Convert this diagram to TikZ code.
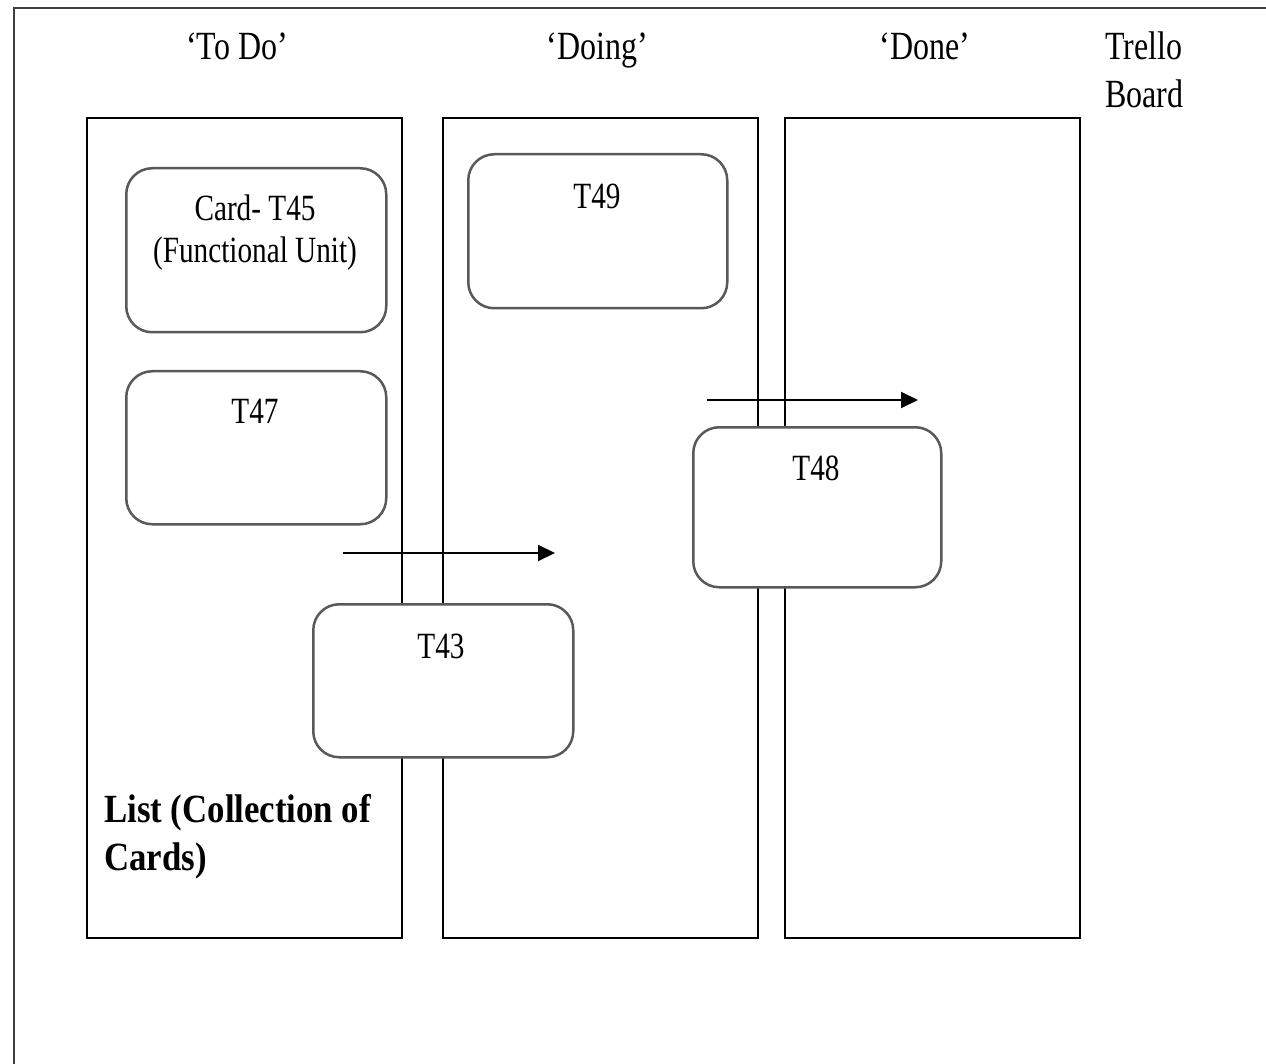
\documentclass[tikz,border=0pt]{standalone}
\usepackage{fontspec}
\setmainfont{Liberation Serif}
\usetikzlibrary{arrows.meta}
\newcommand{\sq}[2][0.79]{\scalebox{#1}[1]{#2}}
\begin{document}
\begin{tikzpicture}[x=1pt,y=-1pt,
  frame/.style={draw=black!75, line width=2.8pt},
  listcol/.style={draw=black, line width=1.7pt, minimum width=#1, minimum height=820, inner sep=0pt},
  card/.style={draw=black!65, line width=2.5pt, fill=white, rounded corners=26pt, inner sep=0pt},
  hdr/.style={anchor=base, font=\fontsize{40}{46}\selectfont, inner sep=0pt},
  ctext/.style={anchor=base, font=\fontsize{37}{43}\selectfont, inner sep=0pt},
  flow/.style={draw=black, line width=1.9pt, -{Triangle[length=17pt,width=16pt]}}]
\useasboundingbox (0,0) rectangle (1266,1064);
% outer board frame (extends past picture edge)
\coordinate (fbl) at (14,1070);
\coordinate (ftl) at (14,8);
\coordinate (ftr) at (1272,8);
\draw[frame] (fbl) -- (ftl) -- (ftr);
% headers
\node[hdr] (htodo) at (237,60) {\sq[0.80]{‘To Do’}};
\node[hdr] (hdoing) at (597,60) {\sq[0.80]{‘Doing’}};
\node[hdr] (hdone) at (925,60) {\sq[0.80]{‘Done’}};
\node[hdr, anchor=base west] (htrello) at (1105,60) {\sq[0.80]{Trello}};
\node[hdr, anchor=base west] (hboard) at (1105,108) {\sq[0.80]{Board}};
% lists
\node[listcol=315, anchor=north west] (ltodo) at (86,117) {};
\node[listcol=315, anchor=north west] (ldoing) at (442,117) {};
\node[listcol=295, anchor=north west] (ldone) at (784,117) {};
% arrows
\coordinate (a1s) at (343,553);
\coordinate (a1e) at (555,553);
\coordinate (a2s) at (707,400);
\coordinate (a2e) at (918,400);
\draw[flow] (a1s) -- (a1e);
\draw[flow] (a2s) -- (a2e);
% cards
\node[card, anchor=north west, minimum width=260, minimum height=164] (t45) at (125,167) {};
\node[card, anchor=north west, minimum width=260, minimum height=153] (t47) at (125,370) {};
\node[card, anchor=north west, minimum width=259, minimum height=154] (t49) at (467,153) {};
\node[card, anchor=north west, minimum width=248, minimum height=160] (t48) at (692,426) {};
\node[card, anchor=north west, minimum width=260, minimum height=153] (t43) at (312,603) {};
% card texts
\node[ctext] (t45a) at (255,221) {\sq{Card- T45}};
\node[ctext] (t45b) at (255,263) {\sq{(Functional Unit)}};
\node[ctext] (t47a) at (255,423) {\sq{T47}};
\node[ctext] (t49a) at (597,209) {\sq{T49}};
\node[ctext] (t48a) at (816,480) {\sq{T48}};
\node[ctext] (t43a) at (441,658) {\sq{T43}};
% list label
\node[anchor=base west, inner sep=0pt, font=\fontsize{40}{46}\selectfont\bfseries] (lab1) at (104,822) {\sq[0.87]{List (Collection of}};
\node[anchor=base west, inner sep=0pt, font=\fontsize{40}{46}\selectfont\bfseries] (lab2) at (104,870) {\sq[0.87]{Cards)}};
\end{tikzpicture}
\end{document}
